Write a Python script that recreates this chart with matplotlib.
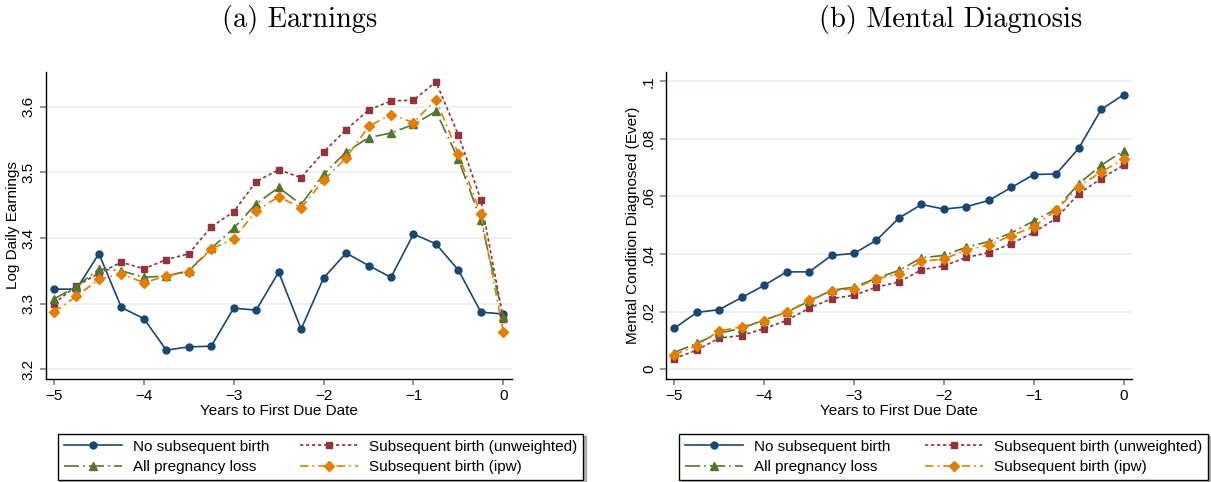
import numpy as np
import matplotlib
matplotlib.use('Agg')
import matplotlib.pyplot as plt

plt.rcParams['font.family'] = ['Liberation Sans', 'DejaVu Sans']

# years to first due date
years = [-5, -4.75, -4.5, -4.25, -4, -3.75, -3.5, -3.25, -3, -2.75, -2.5,
         -2.25, -2, -1.75, -1.5, -1.25, -1, -0.75, -0.5, -0.25, 0]

# (a) log daily earnings
earn_no_birth = [3.322, 3.322, 3.376, 3.294, 3.277, 3.229, 3.234, 3.235, 3.293, 3.290, 3.348,
                 3.261, 3.339, 3.377, 3.358, 3.340, 3.406, 3.391, 3.351, 3.287, 3.284]
earn_unweighted = [3.300, 3.327, 3.346, 3.363, 3.353, 3.367, 3.376, 3.417, 3.440, 3.486, 3.504,
                   3.492, 3.531, 3.565, 3.595, 3.609, 3.610, 3.638, 3.557, 3.458, 3.276]
earn_all_loss = [3.307, 3.326, 3.353, 3.350, 3.340, 3.342, 3.350, 3.384, 3.415, 3.452, 3.477,
                 3.451, 3.497, 3.531, 3.553, 3.560, 3.573, 3.593, 3.520, 3.427, 3.279]
earn_ipw = [3.287, 3.311, 3.337, 3.345, 3.332, 3.342, 3.348, 3.383, 3.399, 3.441, 3.463,
            3.446, 3.488, 3.522, 3.570, 3.588, 3.576, 3.611, 3.528, 3.436, 3.257]

# (b) mental condition diagnosed (ever)
ment_no_birth = [0.0142, 0.0197, 0.0207, 0.0249, 0.0291, 0.0338, 0.0338, 0.0395, 0.0402, 0.0448, 0.0525,
                 0.0572, 0.0556, 0.0564, 0.0586, 0.0631, 0.0676, 0.0678, 0.0767, 0.0902, 0.0953]
ment_unweighted = [0.0037, 0.0066, 0.0108, 0.0117, 0.0141, 0.0169, 0.0212, 0.0245, 0.0257, 0.0285, 0.0303,
                   0.0345, 0.0359, 0.0388, 0.0405, 0.0436, 0.0475, 0.0524, 0.0609, 0.0662, 0.0709]
ment_all_loss = [0.0058, 0.0090, 0.0125, 0.0142, 0.0171, 0.0198, 0.0236, 0.0274, 0.0285, 0.0316, 0.0343,
                 0.0387, 0.0395, 0.0424, 0.0443, 0.0473, 0.0515, 0.0556, 0.0644, 0.0708, 0.0759]
ment_ipw = [0.0050, 0.0082, 0.0133, 0.0147, 0.0169, 0.0198, 0.0240, 0.0271, 0.0280, 0.0314, 0.0331,
            0.0374, 0.0383, 0.0414, 0.0431, 0.0464, 0.0495, 0.0552, 0.0634, 0.0685, 0.0729]

labels = ['No subsequent birth', 'Subsequent birth (unweighted)',
          'All pregnancy loss', 'Subsequent birth (ipw)']

earn_ticks = [3.2, 3.3, 3.4, 3.5, 3.6]
earn_ticklabels = ['3.2', '3.3', '3.4', '3.5', '3.6']
ment_ticks = [0, 0.02, 0.04, 0.06, 0.08, 0.1]
ment_ticklabels = ['0', '.02', '.04', '.06', '.08', '.1']
x_ticks = [-5, -4, -3, -2, -1, 0]

# stata s2color style
styles = [
    dict(color='#1a476f', marker='o', ls='-', ms=5),
    dict(color='#90353b', marker='s', ls=(0, (2, 1.6)), ms=4.6),
    dict(color='#55752f', marker='^', ls=(0, (9, 2.5, 1, 2.5)), ms=5.4),
    dict(color='#e37e00', marker='D', ls=(0, (5, 2.5, 1, 2.5)), ms=4.6),
]

fig = plt.figure(figsize=(12.11, 4.82), dpi=100)
W, H = 1211, 482


def panel(left, series, ylim, yticks, yticklabels, ylabel):
    ax = fig.add_axes([left / W, 1 - 379 / H, 466 / W, 307 / H])
    lines = []
    for ys, st, lab in zip(series, styles, labels):
        ln, = ax.plot(years, ys, color=st['color'], ls=st['ls'], lw=1.2,
                      marker=st['marker'], ms=st['ms'], mec=st['color'], label=lab)
        lines.append(ln)
    ax.set_xlim(-5.092, 0.093)
    ax.set_ylim(*ylim)
    ax.set_xticks(x_ticks)
    ax.set_yticks(yticks)
    ax.set_yticklabels(yticklabels, rotation=90, va='center')
    ax.tick_params(axis='both', labelsize=11, length=4.2, width=1.1, color='#777777', pad=3)
    ax.grid(axis='y', color='#e6eef1', lw=1.1)
    ax.set_axisbelow(True)
    for s in ['top', 'right']:
        ax.spines[s].set_visible(False)
    for s in ['left', 'bottom']:
        ax.spines[s].set_linewidth(1.0)
    ax.set_xlabel('Years to First Due Date', fontsize=11, labelpad=1)
    ax.set_ylabel(ylabel, fontsize=11, labelpad=1.5)
    return ax, lines


ax1, l1 = panel(45.7, [earn_no_birth, earn_unweighted, earn_all_loss, earn_ipw],
                (3.185, 3.653), earn_ticks, earn_ticklabels, 'Log Daily Earnings')
ax2, l2 = panel(666, [ment_no_birth, ment_unweighted, ment_all_loss, ment_ipw],
                (-0.0034, 0.1032), ment_ticks, ment_ticklabels, 'Mental Condition Diagnosed (Ever)')

for lines, x0, x1 in [(l1, 57.7, 583), (l2, 679, 1208)]:
    order = [0, 2, 1, 3]
    leg = fig.legend([lines[i] for i in order], [labels[i] for i in order],
                     loc='lower left', ncol=2, mode='expand',
                     bbox_to_anchor=(x0 / W, 1 - 480 / H, (x1 - x0) / W, 51 / H),
                     fontsize=11, handlelength=3.8, handletextpad=0.7,
                     borderaxespad=0, borderpad=0.4, labelspacing=0.4,
                     fancybox=False, edgecolor='black', framealpha=1,
                     shadow={'color': '#777777'})
    leg.get_frame().set_linewidth(1.0)

fig.text(300 / W, 1 - 20 / H, '(a) Earnings', fontfamily='cmr10', fontsize=20.5,
         ha='center', va='center')
fig.text(951 / W, 1 - 20 / H, '(b) Mental Diagnosis', fontfamily='cmr10', fontsize=20.5,
         ha='center', va='center')

fig.savefig('out.png', dpi=100)
